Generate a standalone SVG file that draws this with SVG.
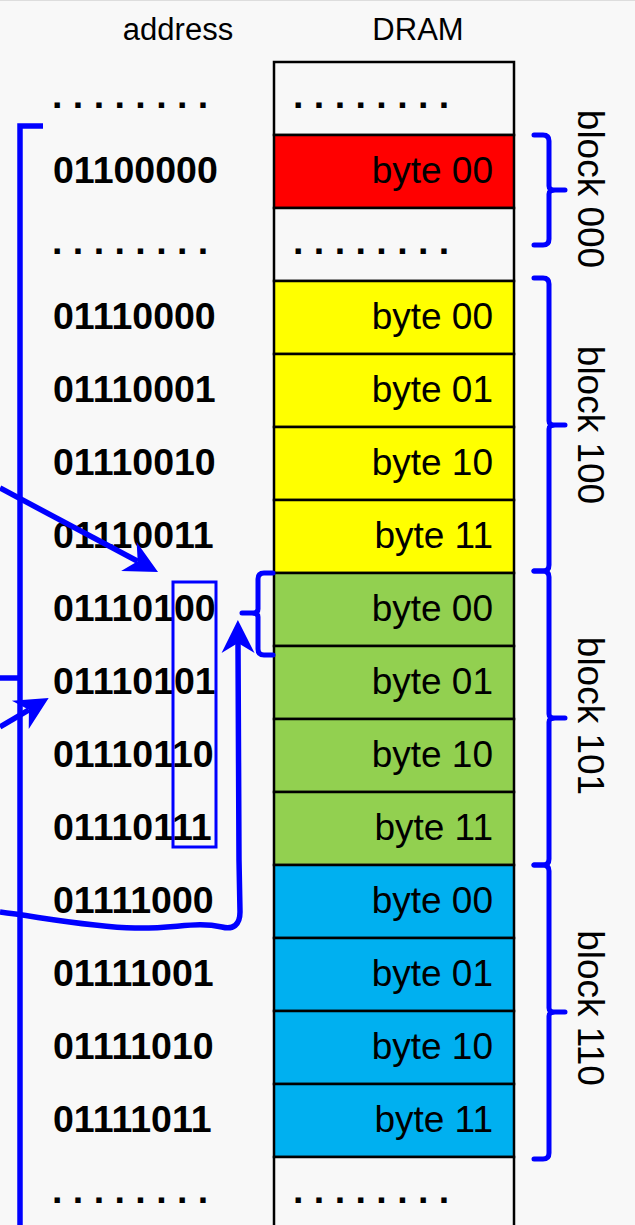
<svg xmlns="http://www.w3.org/2000/svg" width="635" height="1225" viewBox="0 0 635 1225">
<style>
  text{font-family:"Liberation Sans",Arial,Helvetica,sans-serif;fill:#000}
  .hdr{font-size:31px;text-anchor:middle}
  .addr{font-size:37.5px;font-weight:bold}
  .dots{font-size:37.5px;font-weight:bold}
  .byte{font-size:37px;text-anchor:end}
  .blk{font-size:37px;text-anchor:middle}
  .cell{stroke:#000;stroke-width:2.5}
  .e{fill:#f8f8f8}.r{fill:#ff0000}.y{fill:#ffff00}.g{fill:#92d050}.b{fill:#00b0f0}
  .brace{fill:none;stroke:#0000ff;stroke-width:5;stroke-linecap:round;stroke-linejoin:round}
  .conn{fill:none;stroke:#0000ff;stroke-width:5.5}
</style>
<defs>
  <marker id="arr" markerUnits="userSpaceOnUse" markerWidth="40" markerHeight="40" viewBox="-36 -20 40 40" refX="-23" refY="0" orient="auto">
    <path d="M0,0 L-33,-16.5 L-23,0 L-33,16.5 Z" fill="#0000ff"/>
  </marker>
</defs>
<rect x="0" y="0" width="635" height="1225" fill="#f8f8f8"/>
<line x1="0" y1="0.5" x2="635" y2="0.5" stroke="#dddddd" stroke-width="1"/>

<g id="headers">
  <text class="hdr" x="178" y="40">address</text>
  <text class="hdr" x="418" y="40">DRAM</text>
</g>

<g id="dram">
  <g id="cell0"><rect class="cell e" x="274" y="62" width="240" height="73"/><text class="dots" x="293" y="108">. . . . . . . .</text></g>
  <g id="cell1"><rect class="cell r" x="274" y="135" width="240" height="73"/><text class="byte" x="493" y="183">byte 00</text></g>
  <g id="cell2"><rect class="cell e" x="274" y="208" width="240" height="73"/><text class="dots" x="293" y="254">. . . . . . . .</text></g>
  <g id="cell3"><rect class="cell y" x="274" y="281" width="240" height="73"/><text class="byte" x="493" y="329">byte 00</text></g>
  <g id="cell4"><rect class="cell y" x="274" y="354" width="240" height="73"/><text class="byte" x="493" y="402">byte 01</text></g>
  <g id="cell5"><rect class="cell y" x="274" y="427" width="240" height="73"/><text class="byte" x="493" y="475">byte 10</text></g>
  <g id="cell6"><rect class="cell y" x="274" y="500" width="240" height="73"/><text class="byte" x="493" y="548">byte 11</text></g>
  <g id="cell7"><rect class="cell g" x="274" y="573" width="240" height="73"/><text class="byte" x="493" y="621">byte 00</text></g>
  <g id="cell8"><rect class="cell g" x="274" y="646" width="240" height="73"/><text class="byte" x="493" y="694">byte 01</text></g>
  <g id="cell9"><rect class="cell g" x="274" y="719" width="240" height="73"/><text class="byte" x="493" y="767">byte 10</text></g>
  <g id="cell10"><rect class="cell g" x="274" y="792" width="240" height="73"/><text class="byte" x="493" y="840">byte 11</text></g>
  <g id="cell11"><rect class="cell b" x="274" y="865" width="240" height="73"/><text class="byte" x="493" y="913">byte 00</text></g>
  <g id="cell12"><rect class="cell b" x="274" y="938" width="240" height="73"/><text class="byte" x="493" y="986">byte 01</text></g>
  <g id="cell13"><rect class="cell b" x="274" y="1011" width="240" height="73"/><text class="byte" x="493" y="1059">byte 10</text></g>
  <g id="cell14"><rect class="cell b" x="274" y="1084" width="240" height="73"/><text class="byte" x="493" y="1132">byte 11</text></g>
  <g id="cell15"><rect class="cell e" x="274" y="1157" width="240" height="80"/><text class="dots" x="293" y="1203">. . . . . . . .</text></g>
</g>

<g id="addresses">
  <g id="a0"><text class="dots" x="52" y="108">. . . . . . . .</text></g>
  <g id="a1"><text class="addr" x="53" y="183">01100000</text></g>
  <g id="a2"><text class="dots" x="52" y="254">. . . . . . . .</text></g>
  <g id="a3"><text class="addr" x="53" y="329">01110000</text></g>
  <g id="a4"><text class="addr" x="53" y="402">01110001</text></g>
  <g id="a5"><text class="addr" x="53" y="475">01110010</text></g>
  <g id="a6"><text class="addr" x="53" y="548">01110011</text></g>
  <g id="a7"><text class="addr" x="53" y="621">01110100</text></g>
  <g id="a8"><text class="addr" x="53" y="694">01110101</text></g>
  <g id="a9"><text class="addr" x="53" y="767">01110110</text></g>
  <g id="a10"><text class="addr" x="53" y="840">01110111</text></g>
  <g id="a11"><text class="addr" x="53" y="913">01111000</text></g>
  <g id="a12"><text class="addr" x="53" y="986">01111001</text></g>
  <g id="a13"><text class="addr" x="53" y="1059">01111010</text></g>
  <g id="a14"><text class="addr" x="53" y="1132">01111011</text></g>
  <g id="a15"><text class="dots" x="52" y="1203">. . . . . . . .</text></g>
</g>

<g id="blocks">
  <g id="block000">
    <path class="brace" d="M534,135 H543 Q549,135 549,141 V186 Q549,190 555,190 H565 H555 Q549,190 549,194 V239 Q549,245 543,245 H534"/>
    <text class="blk" transform="translate(578,189) rotate(90)">block 000</text>
  </g>
  <g id="block100">
    <path class="brace" d="M534,278 H543 Q549,278 549,284 V421 Q549,425 555,425 H565 H555 Q549,425 549,429 V565 Q549,571 543,571 H534"/>
    <text class="blk" transform="translate(578,425) rotate(90)">block 100</text>
  </g>
  <g id="block101">
    <path class="brace" d="M534,571 H543 Q549,571 549,577 V714 Q549,718 555,718 H565 H555 Q549,718 549,722 V859 Q549,865 543,865 H534"/>
    <text class="blk" transform="translate(578,716) rotate(90)">block 101</text>
  </g>
  <g id="block110">
    <path class="brace" d="M534,865 H543 Q549,865 549,871 V1008 Q549,1012 555,1012 H565 H555 Q549,1012 549,1016 V1153 Q549,1159 543,1159 H534"/>
    <text class="blk" transform="translate(578,1008) rotate(90)">block 110</text>
  </g>
  <g id="byteBrace">
    <path class="brace" d="M273,573 H264 Q258,573 258,579 V609 Q258,613 252,613 H242 H252 Q258,613 258,617 V649 Q258,655 264,655 H273"/>
  </g>
  <g id="offsetBox">
    <rect x="173" y="582" width="43" height="265" fill="none" stroke="#0000ff" stroke-width="3"/>
  </g>
</g>

<g id="connectors">
  <path class="conn" stroke-width="6" d="M43,126 H20 V1225"/>
  <path class="conn" stroke-width="4" d="M0,678 H22"/>
  <path class="conn" d="M0,488 L137.7,561.2" marker-end="url(#arr)"/>
  <path class="conn" d="M0,727 L28.9,709.8" marker-end="url(#arr)"/>
  <path class="conn" d="M0,912 C40,917 90,927 135,928 C175,929 195,921 222,927 C233,930 240,925 240,912 L239,860 L238,643" marker-end="url(#arr)"/>
</g>
</svg>
